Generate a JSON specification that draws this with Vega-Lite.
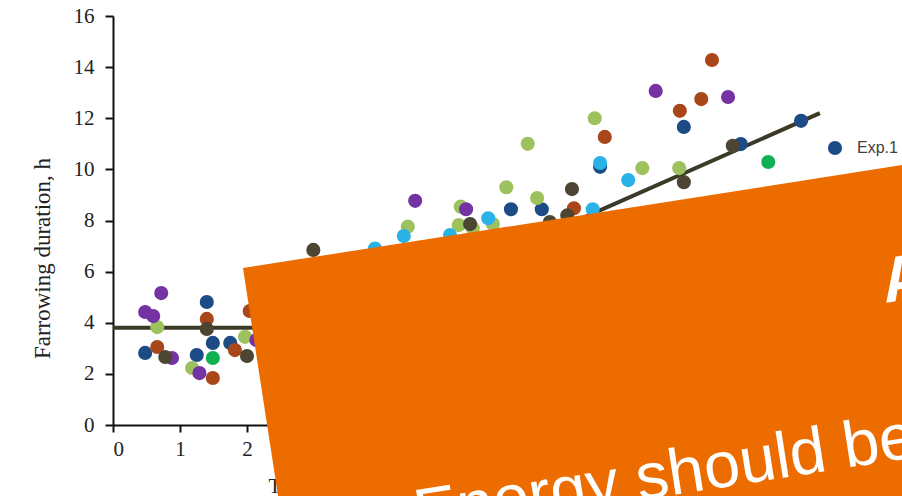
{
  "$schema": "https://vega.github.io/schema/vega-lite/v6.json",
  "width": 737,
  "height": 409,
  "autosize": {"type": "none"},
  "padding": {"left": 113, "top": 16, "right": 52, "bottom": 71},
  "background": "white",
  "config": {
    "view": {"stroke": null},
    "axis": {
      "grid": false,
      "domainColor": "#111111",
      "domainWidth": 2,
      "tickColor": "#111111",
      "tickWidth": 2,
      "labelFont": "Liberation Serif",
      "labelFontSize": 21,
      "labelColor": "#222222",
      "titleFont": "Liberation Serif",
      "titleFontWeight": "normal",
      "titleColor": "#222222"
    }
  },
  "datasets": {
    "fit": [
      {"t": 0, "dur": 3.8},
      {"t": 3.3, "dur": 3.8},
      {"t": 10.55, "dur": 12.2}
    ],
    "sows": [
      {"exp": "Exp.1", "t": 0.48, "dur": 2.82},
      {"exp": "Exp.1", "t": 1.25, "dur": 2.74},
      {"exp": "Exp.1", "t": 1.40, "dur": 4.81},
      {"exp": "Exp.1", "t": 1.49, "dur": 3.21},
      {"exp": "Exp.1", "t": 1.75, "dur": 3.21},
      {"exp": "Exp.1", "t": 5.94, "dur": 8.44},
      {"exp": "Exp.1", "t": 6.40, "dur": 8.44},
      {"exp": "Exp.1", "t": 7.27, "dur": 10.1},
      {"exp": "Exp.1", "t": 8.52, "dur": 11.66},
      {"exp": "Exp.1", "t": 9.37, "dur": 10.99},
      {"exp": "Exp.1", "t": 10.27, "dur": 11.9},
      {"exp": "Exp.2", "t": 0.66, "dur": 3.05},
      {"exp": "Exp.2", "t": 1.40, "dur": 4.15},
      {"exp": "Exp.2", "t": 1.49, "dur": 1.84},
      {"exp": "Exp.2", "t": 1.82, "dur": 2.93},
      {"exp": "Exp.2", "t": 2.04, "dur": 4.46},
      {"exp": "Exp.2", "t": 6.88, "dur": 8.48},
      {"exp": "Exp.2", "t": 7.34, "dur": 11.27},
      {"exp": "Exp.2", "t": 8.94, "dur": 14.28},
      {"exp": "Exp.2", "t": 8.78, "dur": 12.75},
      {"exp": "Exp.2", "t": 8.46, "dur": 12.29},
      {"exp": "Exp.3", "t": 0.66, "dur": 3.83},
      {"exp": "Exp.3", "t": 1.18, "dur": 2.23},
      {"exp": "Exp.3", "t": 1.97, "dur": 3.45},
      {"exp": "Exp.3", "t": 4.40, "dur": 7.76},
      {"exp": "Exp.3", "t": 5.19, "dur": 8.54},
      {"exp": "Exp.3", "t": 5.16, "dur": 7.82},
      {"exp": "Exp.3", "t": 5.37, "dur": 7.7},
      {"exp": "Exp.3", "t": 5.67, "dur": 7.86},
      {"exp": "Exp.3", "t": 5.87, "dur": 9.3},
      {"exp": "Exp.3", "t": 6.19, "dur": 11.0},
      {"exp": "Exp.3", "t": 6.33, "dur": 8.88},
      {"exp": "Exp.3", "t": 7.19, "dur": 12.0},
      {"exp": "Exp.3", "t": 7.90, "dur": 10.05},
      {"exp": "Exp.3", "t": 8.45, "dur": 10.05},
      {"exp": "Exp.4", "t": 0.48, "dur": 4.42},
      {"exp": "Exp.4", "t": 0.60, "dur": 4.26},
      {"exp": "Exp.4", "t": 0.72, "dur": 5.16},
      {"exp": "Exp.4", "t": 0.88, "dur": 2.62},
      {"exp": "Exp.4", "t": 1.29, "dur": 2.03},
      {"exp": "Exp.4", "t": 2.14, "dur": 3.33},
      {"exp": "Exp.4", "t": 4.51, "dur": 8.77},
      {"exp": "Exp.4", "t": 5.27, "dur": 8.44},
      {"exp": "Exp.4", "t": 8.10, "dur": 13.07},
      {"exp": "Exp.4", "t": 9.18, "dur": 12.83},
      {"exp": "Exp.5", "t": 3.91, "dur": 6.9},
      {"exp": "Exp.5", "t": 4.34, "dur": 7.39},
      {"exp": "Exp.5", "t": 5.03, "dur": 7.43},
      {"exp": "Exp.5", "t": 5.60, "dur": 8.09},
      {"exp": "Exp.5", "t": 7.16, "dur": 8.44},
      {"exp": "Exp.5", "t": 7.27, "dur": 10.25},
      {"exp": "Exp.5", "t": 7.69, "dur": 9.58},
      {"exp": "Exp.6", "t": 0.78, "dur": 2.66},
      {"exp": "Exp.6", "t": 1.40, "dur": 3.76},
      {"exp": "Exp.6", "t": 2.00, "dur": 2.70},
      {"exp": "Exp.6", "t": 2.99, "dur": 6.85},
      {"exp": "Exp.6", "t": 5.33, "dur": 7.86},
      {"exp": "Exp.6", "t": 6.52, "dur": 7.94},
      {"exp": "Exp.6", "t": 6.78, "dur": 8.2},
      {"exp": "Exp.6", "t": 6.85, "dur": 9.23},
      {"exp": "Exp.6", "t": 8.52, "dur": 9.5},
      {"exp": "Exp.6", "t": 9.25, "dur": 10.92},
      {"exp": "Exp.7", "t": 1.49, "dur": 2.62},
      {"exp": "Exp.7", "t": 9.78, "dur": 10.29}
    ],
    "banner": [
      {"t": 1.94, "top": 6.14, "bot": 6.14},
      {"t": 2.77, "top": 6.48, "bot": -8},
      {"t": 12.64, "top": 10.52, "bot": -8}
    ],
    "tagline": [
      {"t": 4.55, "dur": -4.3, "label": "Energy should be"}
    ],
    "heading": [
      {"t": 11.52, "dur": 4.77, "label": "A"}
    ]
  },
  "layer": [
    {
      "data": {"name": "fit"},
      "mark": {"type": "line", "color": "#3b3a26", "strokeWidth": 4},
      "encoding": {
        "x": {
          "field": "t",
          "type": "quantitative",
          "scale": {"domain": [0, 11], "nice": false, "zero": false},
          "axis": {
            "values": [0, 1, 2, 3, 4, 5, 6, 7, 8, 9, 10, 11],
            "format": "d",
            "tickSize": 7,
            "labelPadding": 6,
            "title": "Time from last meal to onset of farrowing, h",
            "titleFontSize": 21,
            "titleX": 155,
            "titleY": 67,
            "titleAlign": "left",
            "titleBaseline": "alphabetic"
          }
        },
        "y": {
          "field": "dur",
          "type": "quantitative",
          "scale": {"domain": [0, 16], "nice": false},
          "axis": {
            "values": [0, 2, 4, 6, 8, 10, 12, 14, 16],
            "format": "d",
            "tickSize": 8,
            "labelPadding": 11,
            "title": "Farrowing duration, h",
            "titleFontSize": 23,
            "titleX": -71,
            "titleY": 242,
            "titleAngle": 270,
            "titleAlign": "center",
            "titleBaseline": "middle"
          }
        }
      }
    },
    {
      "data": {"name": "sows"},
      "mark": {"type": "circle", "size": 200, "opacity": 1},
      "encoding": {
        "x": {"field": "t", "type": "quantitative"},
        "y": {"field": "dur", "type": "quantitative"},
        "color": {
          "field": "exp",
          "type": "nominal",
          "scale": {
            "domain": ["Exp.1", "Exp.2", "Exp.3", "Exp.4", "Exp.5", "Exp.6", "Exp.7"],
            "range": ["#1d4b85", "#a9471b", "#9dc15c", "#7432a3", "#2ab2e7", "#4b4531", "#10b153"]
          },
          "legend": {
            "values": ["Exp.1"],
            "orient": "none",
            "legendX": 714,
            "legendY": 124,
            "title": null,
            "symbolType": "circle",
            "symbolSize": 200,
            "symbolStrokeWidth": 0,
            "labelFont": "Liberation Sans",
            "labelFontSize": 16,
            "labelColor": "#404040",
            "labelOffset": 14
          }
        }
      }
    },
    {
      "data": {"name": "banner"},
      "mark": {"type": "area", "orient": "vertical", "color": "#ED6C00", "opacity": 1, "clip": false},
      "encoding": {
        "x": {"field": "t", "type": "quantitative"},
        "y": {"field": "top", "type": "quantitative"},
        "y2": {"field": "bot"}
      }
    },
    {
      "data": {"name": "tagline"},
      "mark": {
        "type": "text",
        "angle": -8.9,
        "align": "left",
        "baseline": "alphabetic",
        "font": "Liberation Sans",
        "fontSize": 65,
        "color": "white"
      },
      "encoding": {
        "x": {"field": "t", "type": "quantitative"},
        "y": {"field": "dur", "type": "quantitative"},
        "text": {"field": "label"}
      }
    },
    {
      "data": {"name": "heading"},
      "mark": {
        "type": "text",
        "angle": -8.9,
        "align": "left",
        "baseline": "alphabetic",
        "font": "Liberation Sans",
        "fontWeight": "bold",
        "fontSize": 64,
        "color": "white"
      },
      "encoding": {
        "x": {"field": "t", "type": "quantitative"},
        "y": {"field": "dur", "type": "quantitative"},
        "text": {"field": "label"}
      }
    }
  ]
}
